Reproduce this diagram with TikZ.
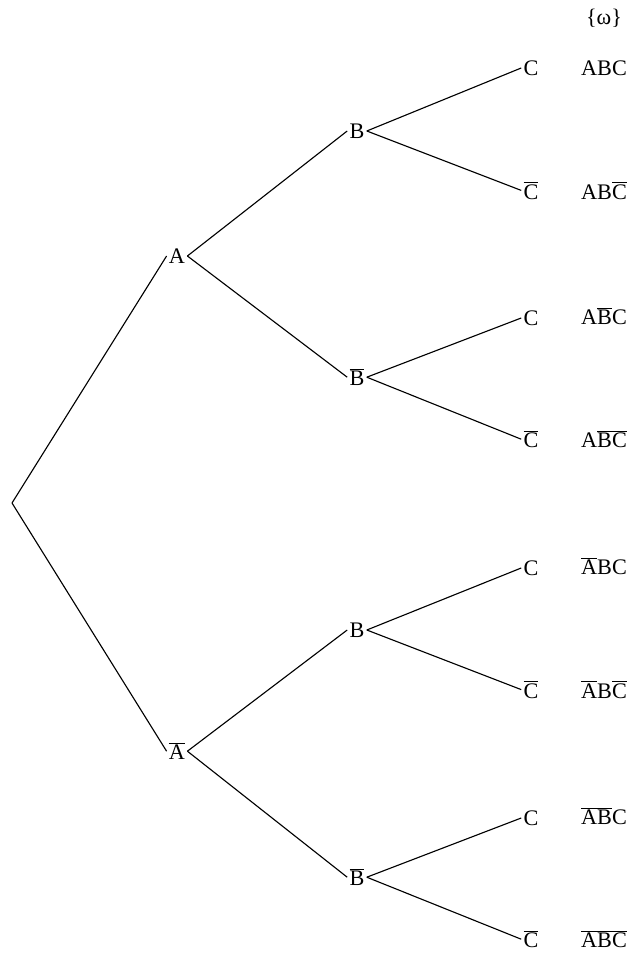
\documentclass[tikz,border=0pt]{standalone}
\usepackage{fontspec}
\setmainfont{Liberation Serif}
\newcommand{\notev}[1]{$\overline{\hbox{#1}}$}

\begin{document}
\begin{tikzpicture}[event/.style={inner sep=1.5pt,font=\fontsize{15.8}{18}\selectfont},outcome/.style={inner sep=1pt,font=\fontsize{15.8}{18}\selectfont},branch/.style={line width=0.8pt,draw=black}]
\fill[white] (0,0) rectangle (15.8,-24);\useasboundingbox (0,0) rectangle (15.8,-24);
\coordinate (O) at (0.3,-12.575);
\node[event] (A) at (4.425,-6.4) {A};\node[event] (nA) at (4.425,-18.78) {\notev{A}};
\node[event] (B1) at (8.925,-3.275) {B};\node[event] (nB1) at (8.925,-9.43) {\notev{B}};\node[event] (B2) at (8.925,-15.75) {B};\node[event] (nB2) at (8.925,-21.93) {\notev{B}};
\node[event] (C1) at (13.275,-1.7) {C};\node[event] (nC1) at (13.275,-4.76) {\notev{C}};\node[event] (C2) at (13.275,-7.95) {C};\node[event] (nC2) at (13.275,-10.98) {\notev{C}};
\node[event] (C3) at (13.275,-14.2) {C};\node[event] (nC3) at (13.275,-17.24) {\notev{C}};\node[event] (C4) at (13.275,-20.45) {C};\node[event] (nC4) at (13.275,-23.48) {\notev{C}};
\draw[branch] (O)--(A.west);\draw[branch] (O)--(nA.west);
\draw[branch] (A.east)--(B1.west);\draw[branch] (A.east)--(nB1.west);\draw[branch] (nA.east)--(B2.west);\draw[branch] (nA.east)--(nB2.west);
\draw[branch] (B1.east)--(C1.west);\draw[branch] (B1.east)--(nC1.west);\draw[branch] (nB1.east)--(C2.west);\draw[branch] (nB1.east)--(nC2.west);
\draw[branch] (B2.east)--(C3.west);\draw[branch] (B2.east)--(nC3.west);\draw[branch] (nB2.east)--(C4.west);\draw[branch] (nB2.east)--(nC4.west);
\node[outcome] (omega) at (15.1,-0.45) {\{ω\}};
\node[outcome] (w1) at (15.1,-1.7) {ABC};\node[outcome] (w2) at (15.1,-4.76) {AB\notev{C}};
\node[outcome] (w3) at (15.1,-7.9) {A\notev{B}C};\node[outcome] (w4) at (15.1,-10.98) {A\notev{BC}};
\node[outcome] (w5) at (15.1,-14.15) {\notev{A}BC};\node[outcome] (w6) at (15.1,-17.24) {\notev{A}B\notev{C}};
\node[outcome] (w7) at (15.1,-20.4) {\notev{AB}C};\node[outcome] (w8) at (15.1,-23.48) {\notev{ABC}};
\end{tikzpicture}
\end{document}
